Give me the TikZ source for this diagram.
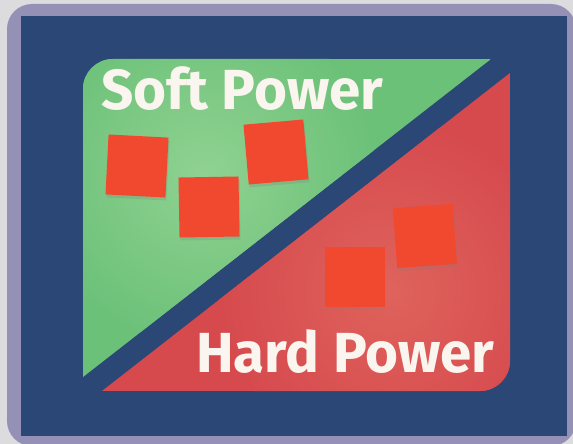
\documentclass[tikz,border=0pt]{standalone}
\usepackage{fontspec}
\setmainfont{Fira Sans}
\usetikzlibrary{shadows}

\definecolor{bggray}{HTML}{DCDCDE}
\definecolor{frame}{HTML}{9590B5}
\definecolor{navy}{HTML}{2A4775}
\definecolor{softgreen}{HTML}{6CC179}
\definecolor{softgreenlight}{HTML}{90D291}
\definecolor{hardred}{HTML}{D64A4E}
\definecolor{hardredlight}{HTML}{DF635C}
\definecolor{tile}{HTML}{F0492F}
\definecolor{chalk}{HTML}{FAF5EF}

\begin{document}
\begin{tikzpicture}[x=1pt, y=-1pt,
  tilebox/.style={fill=tile, minimum size=60pt, inner sep=0pt,
    drop shadow={opacity=0.25, shadow xshift=1pt, shadow yshift=-3pt}},
  label/.style={text=chalk, font=\fontsize{56.5}{58}\selectfont\bfseries, inner sep=0pt, anchor=base west}]

  \useasboundingbox (0,0) rectangle (573,444);

  % Frame
  \fill[bggray] (0,0) rectangle (573,444);
  \fill[frame, rounded corners=25pt] (7,4) rectangle (576,446);
  \fill[navy] (21,16) rectangle (567,436);

  % Soft half
  \begin{scope}
    \clip (83,377) [rounded corners=30pt] -- (83,59) [sharp corners] -- (491,59) -- cycle;
    \fill[softgreen] (83,59) rectangle (491,377);
    \shade[inner color=softgreenlight, outer color=softgreen] (205,175) circle[radius=170];
  \end{scope}

  % Hard half
  \begin{scope}
    \clip (102,391) -- (510,73) [rounded corners=30pt] -- (510,391) [sharp corners] -- cycle;
    \fill[hardred] (102,73) rectangle (510,391);
    \shade[inner color=hardredlight, outer color=hardred] (390,290) circle[radius=170];
  \end{scope}

  % Tiles
  \node (T1) [tilebox, rotate=-3] at (137,166) {};
  \node (T2) [tilebox, rotate=1]  at (209,207) {};
  \node (T3) [tilebox, rotate=5]  at (276,152) {};
  \node (T4) [tilebox, rotate=4]  at (425,236) {};
  \node (T5) [tilebox]            at (355,277) {};

  % Labels
  \node (S) [label] at (101,110) {Soft Power};
  \node (H) [label] at (196,372) {Hard Power};

\end{tikzpicture}
\end{document}
